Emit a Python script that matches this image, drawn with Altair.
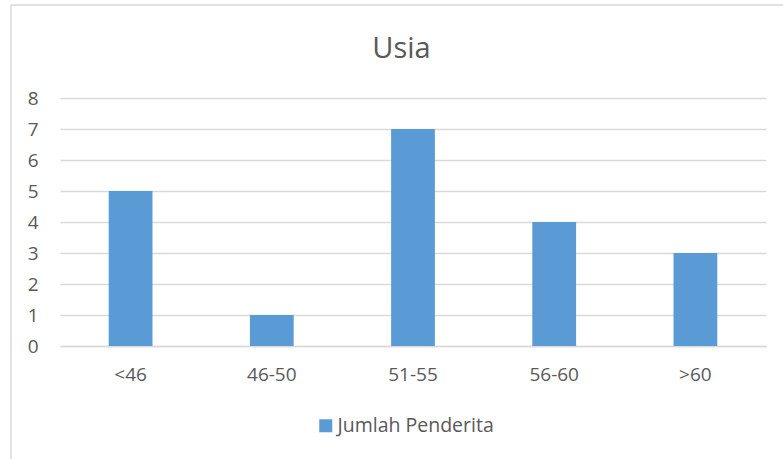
import altair as alt
import pandas as pd

categories = ["<46", "46-50", "51-55", "56-60", ">60"]
values = [5, 1, 7, 4, 3]
series = "Jumlah Penderita"
chart_title = "Usia"

df = pd.DataFrame({"Usia": categories, "Jumlah": values, "Seri": [series] * len(categories)})

FONT = "Open Sans"
GREY_TXT = "#595959"
GRID = "#d9d9d9"
FS = 19

bars = alt.Chart(df).mark_bar(color="#5B9BD5").encode(
    x=alt.X("Usia:N", sort=categories, title=None,
            scale=alt.Scale(paddingInner=0.69, paddingOuter=0.345),
            axis=alt.Axis(labelAngle=0, ticks=False, domain=True, domainColor=GRID,
                          domainWidth=1.5, labelPadding=19, labelFontSize=FS,
                          labelFont=FONT, labelColor=GREY_TXT, grid=False)),
    y=alt.Y("Jumlah:Q", title=None,
            scale=alt.Scale(domain=[0, 8], nice=False),
            axis=alt.Axis(values=list(range(0, 9)), ticks=False, domain=False,
                          grid=True, gridColor=GRID, gridWidth=1.5,
                          labelPadding=22, labelFontSize=FS, labelFont=FONT,
                          labelColor=GREY_TXT)),
    color=alt.Color("Seri:N", scale=alt.Scale(domain=[series], range=["#5B9BD5"]),
                    legend=alt.Legend(title=None, orient="none", legendX=256, legendY=318,
                                      symbolType="square", symbolSize=169,
                                      symbolStrokeWidth=0, labelFontSize=19.5,
                                      labelFont=FONT, labelColor=GREY_TXT,
                                      labelOffset=2, padding=0)),
)

frame_data = alt.Data(values=[{}])
left_border = alt.Chart(frame_data).mark_rule(color=GRID, strokeWidth=1.5).encode(
    x=alt.value(-49), y=alt.value(-93), y2=alt.value(400)
)
top_border = alt.Chart(frame_data).mark_rule(color=GRID, strokeWidth=1.5).encode(
    x=alt.value(-49), x2=alt.value(760), y=alt.value(-93)
)
title_text = alt.Chart(alt.Data(values=[{"t": chart_title}])).mark_text(
    font=FONT, fontSize=29, color=GREY_TXT, align="center", baseline="alphabetic"
).encode(text="t:N", x=alt.value(341.5), y=alt.value(-40))

chart = alt.layer(bars, left_border, top_border, title_text).properties(
    width=706, height=248,
    autosize=alt.AutoSizeParams(type="none"),
    padding={"left": 60, "top": 98, "right": 17, "bottom": 113},
).configure_view(stroke=None)

chart.save("out.html", embed_options={"renderer": "svg", "actions": False})
